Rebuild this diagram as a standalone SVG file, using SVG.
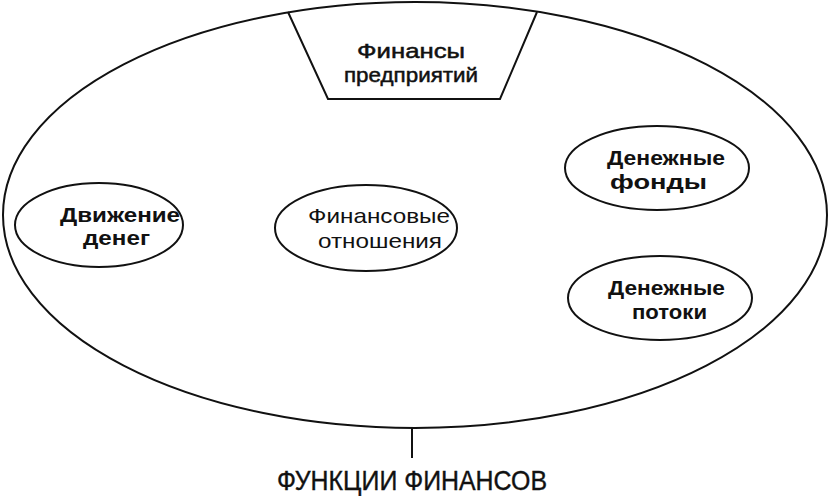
<svg xmlns="http://www.w3.org/2000/svg" width="830" height="496" viewBox="0 0 830 496">
<style>
.sh{fill:none;stroke:#111;stroke-width:2}
.t{font-family:"Liberation Sans",Arial,sans-serif;fill:#111;font-size:21px}
.b{font-weight:bold;font-size:20px}
.m{stroke:#111;stroke-width:0.5}
</style>
<rect width="830" height="496" fill="#fff"/>
<g id="connectors">
<line x1="412" y1="428" x2="412" y2="458" class="sh"/>
</g>
<g id="main">
<ellipse cx="415" cy="215" rx="412" ry="213" class="sh"/>
</g>
<g id="top">
<path d="M288,12 L328,99 L500,99 L537,12" class="sh"/>
<text class="t m" x="357" y="58" textLength="108" lengthAdjust="spacingAndGlyphs">Финансы</text>
<text class="t m" x="344" y="82" textLength="134" lengthAdjust="spacingAndGlyphs">предприятий</text>
</g>
<g id="dvizhenie">
<ellipse cx="99" cy="225" rx="84" ry="42" class="sh"/>
<text class="t b" x="60" y="222" textLength="120" lengthAdjust="spacingAndGlyphs">Движение</text>
<text class="t b" x="83" y="245" textLength="67" lengthAdjust="spacingAndGlyphs">денег</text>
</g>
<g id="otnosheniya">
<ellipse cx="366" cy="228" rx="91" ry="43" class="sh"/>
<text class="t" x="308" y="223" textLength="142" lengthAdjust="spacingAndGlyphs">Финансовые</text>
<text class="t" x="318" y="248" textLength="124" lengthAdjust="spacingAndGlyphs">отношения</text>
</g>
<g id="fondy">
<ellipse cx="657" cy="168" rx="92" ry="42" class="sh"/>
<text class="t b" x="607" y="165" textLength="118" lengthAdjust="spacingAndGlyphs">Денежные</text>
<text class="t b" x="610" y="189" textLength="97" lengthAdjust="spacingAndGlyphs">фонды</text>
</g>
<g id="potoki">
<ellipse cx="660" cy="298" rx="92" ry="42" class="sh"/>
<text class="t b" x="608" y="295" textLength="117" lengthAdjust="spacingAndGlyphs">Денежные</text>
<text class="t b" x="632" y="319" textLength="75" lengthAdjust="spacingAndGlyphs">потоки</text>
</g>
<g id="funkcii">
<text class="t" style="font-size:28px;stroke:#111;stroke-width:0.4" x="277" y="490" textLength="270" lengthAdjust="spacingAndGlyphs">ФУНКЦИИ  ФИНАНСОВ</text>
</g>
</svg>
